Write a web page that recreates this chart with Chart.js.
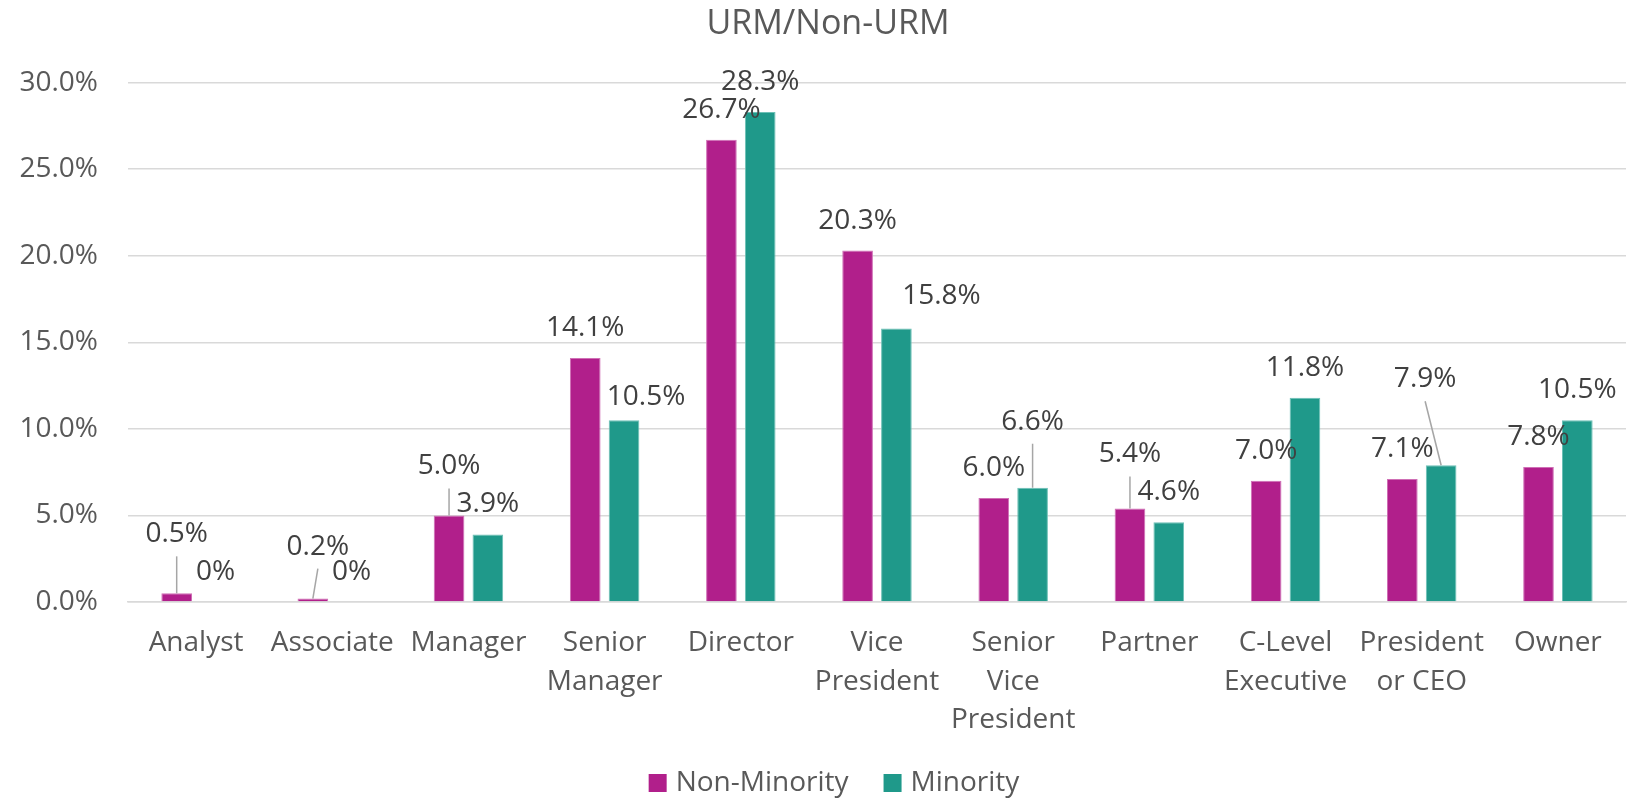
<!DOCTYPE html>
<html>
<head>
<meta charset="utf-8">
<script src="https://cdn.jsdelivr.net/npm/chart.js@4/dist/chart.umd.min.js"></script>
<style>
  html, body { margin: 0; padding: 0; background: #ffffff; }
  canvas { display: block; }
</style>
</head>
<body>
<canvas id="c" width="1637" height="798"></canvas>
<script>
// ---- data ----
const chartTitle = "URM/Non-URM";
const categories = [
  ["Analyst"], ["Associate"], ["Manager"], ["Senior", "Manager"], ["Director"],
  ["Vice", "President"], ["Senior", "Vice", "President"], ["Partner"],
  ["C-Level", "Executive"], ["President", "or CEO"], ["Owner"]
];
const seriesNames = ["Non-Minority", "Minority"];
const nonMinority = [0.5, 0.2, 5.0, 14.1, 26.7, 20.3, 6.0, 5.4, 7.0, 7.1, 7.8];
const minority    = [0, 0, 3.9, 10.5, 28.3, 15.8, 6.6, 4.6, 11.8, 7.9, 10.5];
const yTicks = [0, 5, 10, 15, 20, 25, 30];
const seriesColors = ['#B11F8B', '#1F998A'];
const seriesEdges  = ['#cf6fb5', '#6cc0b6'];

// label adjustments (pixels) relative to default "outside end" position; leader line flag
const nonMinorityLabelShift = [[0, -29, 1], [5, -22, 1], [0, -19, 1], null, null, null, null, [0, -24, 1], null, null, null];
const minorityLabelShift    = [null, null, null, [22, 7, 0], null, [45, -2, 0], [0, -36, 1], null, null, [-16, -56, 1], null];

const FONT = "'Open Sans', 'Noto Sans', sans-serif";
Chart.defaults.font.family = FONT;

const fmt = v => (v === 0 ? "0%" : v.toFixed(1) + "%");

const dataLabelPlugin = {
  id: 'dataLabels',
  afterDatasetsDraw(chart) {
    const ctx = chart.ctx;
    const shifts = [nonMinorityLabelShift, minorityLabelShift];
    ctx.save();
    ctx.font = "28px " + FONT;
    ctx.textAlign = 'center';
    ctx.textBaseline = 'middle';
    chart.data.datasets.forEach((ds, di) => {
      const meta = chart.getDatasetMeta(di);
      meta.data.forEach((bar, i) => {
        const s = shifts[di][i] || [0, 0, 0];
        const x = bar.x + s[0];
        const y = bar.y - 30 + s[1];
        if (s[2]) {
          ctx.strokeStyle = '#a6a6a6';
          ctx.lineWidth = 1.5;
          ctx.beginPath();
          ctx.moveTo(x, y + 22);
          ctx.lineTo(bar.x, bar.y);
          ctx.stroke();
        }
        ctx.fillStyle = '#404040';
        ctx.fillText(fmt(ds.data[i]), x, y);
      });
    });
    ctx.restore();
  }
};

// title and legend drawn around the plot
const decorPlugin = {
  id: 'decor',
  afterDraw(chart) {
    const ctx = chart.ctx;
    ctx.save();
    // title
    ctx.font = "34px " + FONT;
    ctx.textAlign = 'center';
    ctx.textBaseline = 'middle';
    ctx.fillStyle = '#595959';
    ctx.fillText(chartTitle, 828, 24);
    // legend
    ctx.font = "28px " + FONT;
    ctx.textAlign = 'left';
    const box = 18, gapText = 9, gapItem = 35, cy = 783, cx = 834;
    const items = chart.data.datasets.map(d => ({ text: d.label, color: d.backgroundColor, w: ctx.measureText(d.label).width }));
    const total = items.reduce((s, it) => s + box + gapText + it.w, 0) + gapItem * (items.length - 1);
    let x = cx - total / 2;
    items.forEach(it => {
      ctx.fillStyle = it.color;
      ctx.fillRect(x, cy - box / 2, box, box);
      x += box + gapText;
      ctx.fillStyle = '#595959';
      ctx.fillText(it.text, x, cy);
      x += it.w + gapItem;
    });
    ctx.restore();
  }
};

new Chart(document.getElementById('c'), {
  type: 'bar',
  data: {
    labels: categories,
    datasets: [
      { label: seriesNames[0], data: nonMinority, backgroundColor: seriesColors[0], borderColor: seriesEdges[0], borderWidth: 1 },
      { label: seriesNames[1], data: minority, backgroundColor: seriesColors[1], borderColor: seriesEdges[1], borderWidth: 1 }
    ]
  },
  options: {
    responsive: false,
    animation: false,
    devicePixelRatio: 1,
    categoryPercentage: 0.57,
    barPercentage: 0.79,
    layout: { padding: { top: 82.6, left: 0, right: 11, bottom: 0 } },
    plugins: {
      title: { display: false },
      legend: { display: false },
      tooltip: { enabled: false }
    },
    scales: {
      x: {
        grid: { display: false, drawTicks: false },
        border: { display: true, color: '#d9d9d9', width: 1.5 },
        ticks: {
          color: '#595959',
          font: { size: 28, lineHeight: 1.37 },
          padding: 22,
          maxRotation: 0,
          autoSkip: false
        },
        afterFit(scale) { scale.height = 196; }
      },
      y: {
        min: 0, max: 30,
        afterBuildTicks(scale) { scale.ticks = yTicks.map(v => ({ value: v })); },
        grid: { color: '#d9d9d9', lineWidth: 1.5, drawTicks: false },
        border: { display: false },
        ticks: {
          color: '#595959',
          font: { size: 28 },
          padding: 30,
          callback: v => Number(v).toFixed(1) + '%'
        },
        afterFit(scale) { scale.width = 128; }
      }
    }
  },
  plugins: [dataLabelPlugin, decorPlugin]
});
</script>
</body>
</html>
